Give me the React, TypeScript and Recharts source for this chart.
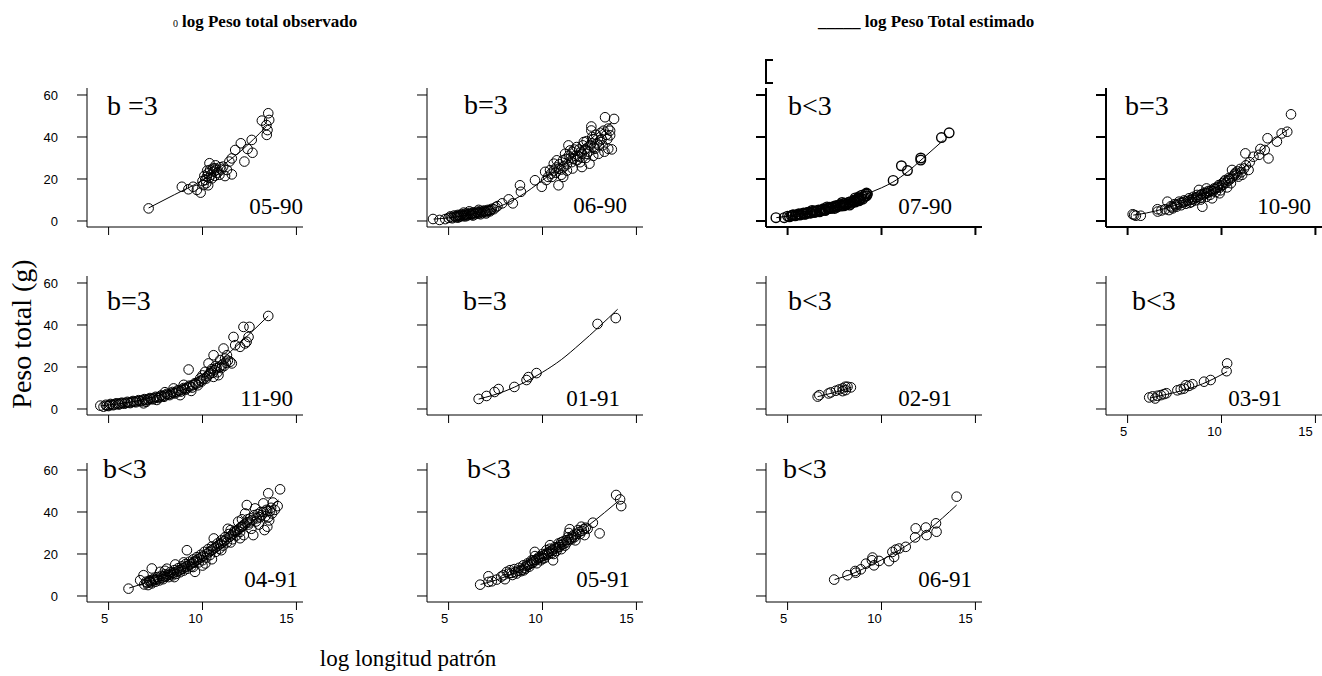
import React from 'react';
import { ScatterChart, Scatter, XAxis, YAxis } from 'recharts';

type Pt = [number, number];

// observed points (log longitud patrón, peso total) and fitted curve per month
const obs0590: Pt[] = [
  [7.13, 6.0], [8.9, 16.3], [9.25, 15.1], [9.5, 16.3], [9.7, 14.8], [9.9, 13.5], [10.05, 17.1],
  [10.15, 19.5], [10.23, 21.1], [10.3, 22.7], [10.37, 27.5], [10.4, 24.3], [10.5, 20.3],
  [10.6, 23.5], [10.67, 25.1], [10.76, 24.3], [10.94, 25.6], [11.1, 25.9], [11.2, 21.4],
  [11.3, 24.3], [11.43, 28.3], [11.56, 22.2], [11.56, 29.8], [11.74, 33.8], [12.04, 37],
  [12.23, 28.3], [12.4, 34.3], [12.62, 38.6], [12.66, 32.5], [13.16, 47.8], [13.42, 41],
  [13.46, 43.3], [13.5, 51.3], [13.55, 48.1], [13.4, 45.7], [10.0, 19], [10.1, 21.5],
  [10.2, 18], [10.25, 24], [10.35, 20.5], [10.45, 22], [10.55, 25], [10.65, 21.5],
  [10.7, 26.5], [10.8, 23], [10.9, 22], [11.0, 24.5], [10.3, 17],
];
const fit0590: Pt[] = [[7.13, 6.2], [8.5, 12.5], [10, 19.5], [11, 26], [12, 33], [13.4, 45]];

const obs0690: Pt[] = [
  [4.17, 0.95], [4.52, 0.5], [4.82, 0.9], [5.0, 1.5], [5.1, 2.2], [5.2, 1.3], [5.3, 2.6],
  [5.4, 1.8], [5.5, 2.9], [5.6, 2.0], [5.7, 3.2], [5.8, 2.3], [5.9, 3.5], [6.0, 2.6],
  [6.1, 3.8], [6.2, 2.9], [6.3, 4.1], [6.4, 3.2], [6.5, 4.4], [6.6, 3.5], [6.7, 4.8],
  [6.8, 3.8], [6.9, 5.0], [7.0, 4.2], [7.1, 5.3], [7.2, 4.6], [7.3, 5.8], [7.5, 6.5],
  [7.6, 7.1], [7.85, 8.4], [8.2, 10.3], [8.42, 8.4], [8.8, 17], [8.85, 13.9], [9.6, 19.4],
  [5.15, 1.7], [5.35, 2.1], [5.45, 2.4], [5.55, 2.5], [5.65, 2.7], [5.75, 2.6], [5.85, 2.9],
  [5.95, 3.0], [6.05, 3.2], [6.15, 3.3], [6.25, 3.5], [6.35, 3.7], [6.45, 3.8], [6.55, 4.0],
  [6.65, 4.1], [6.75, 4.3], [6.85, 4.5], [6.95, 4.6], [7.05, 4.8], [7.15, 5.0], [7.25, 5.2],
  [7.4, 5.6], [5.5, 1.6], [5.9, 2.2], [6.3, 2.6], [6.7, 3.2], [7.0, 3.6], [6.1, 4.6],
  [6.6, 5.3], [5.8, 4.0],
  [9.96, 16.3], [10.14, 23.4], [10.2, 19.5], [10.4, 24.2], [10.5, 21], [10.6, 27.3],
  [10.7, 23], [10.76, 28.9], [10.85, 17], [10.9, 25], [11.0, 22], [11.1, 21], [11.1, 29],
  [11.2, 32], [11.3, 27], [11.38, 36], [11.47, 33.6], [11.5, 30], [11.6, 25], [11.65, 29.7],
  [11.7, 34], [11.82, 35.2], [11.9, 31], [12.0, 28], [12.05, 33], [12.1, 25.7], [12.2, 37.6],
  [12.3, 30], [12.36, 32], [12.4, 35], [12.5, 27.3], [12.55, 36], [12.6, 45], [12.6, 43.1],
  [12.7, 39], [12.8, 34.4], [12.9, 37], [12.98, 32], [13.07, 38.4], [13.1, 42], [13.2, 36],
  [13.33, 49.4], [13.4, 41], [13.5, 34.4], [13.6, 40.8], [13.69, 34.1], [13.81, 48.6],
  [13.5, 44], [10.3, 21], [10.45, 22.5], [10.6, 24], [10.75, 25.5], [10.9, 27], [11.0, 24.5],
  [11.15, 26], [11.25, 29.5], [11.4, 31], [11.55, 28], [11.6, 33], [11.75, 31], [11.85, 29],
  [11.95, 34], [12.1, 32], [12.15, 36], [12.25, 34], [12.35, 38], [12.45, 33], [12.6, 37],
  [12.65, 40], [12.75, 35], [12.85, 41], [13.0, 36], [13.15, 39], [13.25, 43], [13.45, 39],
  [13.6, 43], [11.3, 24], [12.0, 30.5], [12.7, 31], [13.3, 33],
];
const fit0690: Pt[] = [
  [4.2, 0.9], [5, 1.5], [6, 2.8], [7, 5], [8, 8], [8.8, 11.8], [10, 19.4], [11.5, 30],
  [12.5, 38.5], [13.7, 47],
];

const obs0790: Pt[] = [
  [4.38, 1.6], [4.82, 1.6], [5.0, 2.3], [5.2, 2.5], [5.3, 3.0], [5.45, 2.8], [5.6, 3.4],
  [5.7, 3.1], [5.85, 3.8], [6.0, 3.6], [6.1, 4.2], [6.25, 3.9], [6.4, 4.7], [6.5, 4.4],
  [6.65, 5.2], [6.8, 4.9], [6.9, 5.8], [7.05, 5.4], [7.2, 6.3], [7.3, 5.9], [7.45, 6.9],
  [7.6, 6.5], [7.7, 7.5], [7.85, 7.1], [8.0, 8.2], [8.1, 7.7], [8.25, 8.9], [8.4, 8.4],
  [8.5, 9.6], [8.6, 9.0], [8.7, 10.3], [8.8, 9.6], [8.9, 11.0], [9.0, 10.4], [9.1, 11.8],
  [9.15, 12.8], [9.2, 13.3], [8.95, 12.3], [8.6, 11.0], [8.3, 7.6], [7.9, 8.8], [7.5, 6.0],
  [7.1, 6.7], [6.7, 4.4], [6.3, 5.0], [5.9, 3.2],
  [5.1, 2.0], [5.25, 2.7], [5.4, 2.5], [5.55, 3.1], [5.65, 2.8], [5.8, 3.5], [5.95, 3.3],
  [6.05, 4.0], [6.2, 3.7], [6.35, 4.4], [6.45, 4.1], [6.55, 4.9], [6.75, 5.0], [6.85, 5.4],
  [7.0, 5.7], [7.15, 6.0], [7.25, 6.6], [7.4, 6.4], [7.55, 7.2], [7.65, 6.9], [7.8, 7.8],
  [7.95, 7.5], [8.05, 8.5], [8.2, 8.2], [8.35, 9.2], [8.45, 8.9], [8.55, 10.0], [8.65, 9.6],
  [8.75, 10.8], [8.85, 10.2], [9.05, 11.2], [9.2, 12.0], [9.25, 12.8], [7.0, 5.0], [8.0, 7.2],
  [8.8, 11.5],
  [10.62, 19.3], [11.06, 26.3], [11.38, 24], [12.09, 29], [12.09, 30], [13.19, 39.7], [13.6, 42],
];
const fit0790: Pt[] = [
  [4.4, 1.6], [5, 2.3], [6, 4], [7, 6], [8, 8.5], [9, 12.2], [10, 15.8], [10.6, 18.5],
  [11.4, 23.5], [12.1, 29], [13.3, 38.5],
];

const obs1090: Pt[] = [
  [5.27, 3.2], [5.44, 2.5], [5.7, 2.5], [5.35, 2.9], [6.59, 5.6], [6.6, 4.5], [7.12, 9.2],
  [7.2, 5.2], [7.3, 7], [7.4, 6.0], [7.5, 8], [7.6, 6.8], [7.74, 9.2], [7.85, 7.5], [8.0, 9.8],
  [8.1, 8.2], [8.27, 10.8], [8.4, 9.0], [8.5, 11.5], [8.6, 9.8], [8.7, 12.4], [8.8, 14.8],
  [8.9, 11], [8.98, 6.8], [9.1, 13.5], [9.2, 11.5], [9.3, 14.3], [9.4, 12.5], [9.5, 10.8],
  [9.6, 15.5], [9.7, 13.8], [9.86, 17.1], [9.95, 14.6], [10.05, 18], [10.2, 19.5], [10.3, 16],
  [10.4, 20.5], [10.5, 18], [10.56, 24.3], [10.65, 21.5], [10.75, 23], [10.9, 21.1],
  [11.0, 24.8], [11.1, 22], [11.27, 32.2], [11.3, 26.5], [11.44, 24.3], [11.5, 28],
  [7.35, 6.5], [7.55, 7.4], [7.65, 7.9], [7.8, 8.5], [7.95, 8.8], [8.05, 9.2], [8.2, 9.6],
  [8.35, 10], [8.45, 10.4], [8.55, 10.7], [8.65, 11.2], [8.75, 11.5], [8.85, 12.2],
  [8.95, 12.8], [9.05, 12.5], [9.15, 13.1], [9.25, 13.3], [9.35, 13.9], [9.45, 14.5],
  [9.55, 14.2], [9.65, 15.2], [9.75, 15.8], [9.8, 16.3], [9.9, 15.9], [10.0, 16.8],
  [10.1, 17.3], [10.15, 18.8], [10.25, 18.2], [10.35, 19.2], [10.45, 19.8], [10.55, 20.7],
  [10.7, 22.3], [10.8, 21.8], [10.85, 23.6], [11.05, 23.2], [11.2, 25], [8.3, 8.6],
  [8.9, 10.2], [9.2, 15.5], [9.9, 13.2], [7.0, 5.6], [6.8, 5.0],
  [11.7, 30.6], [12.0, 31.5], [12.07, 34.3], [12.3, 33.8], [12.5, 29.8], [12.45, 39.4],
  [12.95, 37.8], [13.2, 41.7], [13.5, 42.5], [13.7, 50.8],
];
const fit1090: Pt[] = [
  [5.3, 2.8], [6, 3.8], [7, 6], [8, 9], [9, 12.8], [10, 17.5], [11, 24], [11.8, 31],
  [13.2, 41.5], [13.6, 44],
];

const obs1190: Pt[] = [
  [4.56, 1.6], [4.73, 1.1], [4.85, 2], [5.0, 1.4], [5.1, 2.4], [5.25, 1.8], [5.4, 2.7],
  [5.55, 2.1], [5.7, 3.0], [5.85, 2.5], [6.0, 3.4], [6.15, 2.8], [6.3, 3.8], [6.45, 3.2],
  [6.6, 4.2], [6.75, 3.6], [6.86, 2.7], [6.9, 4.7], [7.05, 4.1], [7.2, 5.2], [7.35, 4.6],
  [7.5, 5.8], [7.57, 4.3], [7.65, 5.2], [7.8, 6.5], [7.95, 5.8], [8.1, 7.2], [8.25, 6.6],
  [8.4, 8.1], [8.46, 9.8], [8.55, 7.4], [8.7, 9.0], [8.81, 6.6], [8.85, 8.3], [9.0, 10.0],
  [9.1, 9.2], [9.26, 18.8], [9.3, 11.1], [9.45, 10.2], [9.6, 12.3], [9.75, 11.3],
  [9.88, 14.6], [9.9, 13.5], [10.0, 16], [10.14, 17.7], [10.2, 14.5], [10.32, 21.7],
  [10.4, 17], [10.5, 19], [10.59, 25.6], [10.59, 15.3], [10.7, 20.5], [10.85, 16.1],
  [10.94, 23.3], [11.0, 19.5], [11.12, 28.8], [11.2, 24], [11.3, 25.6], [11.47, 22.5],
  [4.9, 1.5], [5.05, 1.9], [5.2, 2.1], [5.35, 2.2], [5.5, 2.5], [5.6, 2.6], [5.75, 2.7],
  [5.9, 2.9], [6.05, 3.0], [6.2, 3.3], [6.35, 3.4], [6.5, 3.7], [6.65, 3.8], [6.8, 4.1],
  [6.95, 4.3], [7.1, 4.6], [7.25, 4.8], [7.4, 5.1], [7.55, 5.4], [7.7, 5.8], [7.85, 6.1],
  [8.0, 6.4], [8.15, 6.8], [8.3, 7.3], [8.45, 7.6], [8.6, 8.2], [8.75, 8.6], [8.9, 9.2],
  [9.05, 9.6], [9.2, 10.2], [9.35, 10.7], [9.5, 11.4], [9.65, 11.9], [9.8, 12.6],
  [9.95, 13.1], [10.05, 14.2], [10.25, 15.6], [10.35, 16.5], [10.45, 18], [10.55, 17.2],
  [10.65, 18.5], [10.75, 19.5], [10.8, 17.5], [10.9, 20], [11.05, 21], [11.15, 20.5],
  [11.25, 22], [11.35, 23], [7.0, 3.4], [8.0, 8], [9.0, 11.5], [9.4, 8.6],
  [11.56, 21.7], [11.65, 34.3], [11.74, 30.4], [12, 29.6], [12.18, 39.1], [12.27, 31.2],
  [12.5, 39.1], [12.45, 34.3], [12.35, 32], [13.5, 44.3],
];
const fit1190: Pt[] = [
  [4.6, 1.5], [5, 1.9], [6, 3], [7, 4.8], [8, 7.5], [9, 11.5], [10, 16.5], [11, 23.5],
  [12, 31.5], [13.5, 44.3],
];

const obs0191: Pt[] = [
  [6.6, 4.8], [7.02, 6.2], [7.45, 8.1], [7.66, 9.5], [8.5, 10.5], [9.15, 13.8], [9.25, 15.2],
  [9.68, 17.1], [12.93, 40.5], [13.9, 43.3],
];
const fit0191: Pt[] = [[6.6, 4.7], [8, 8.5], [9, 12.5], [10, 17.5], [11, 23.5], [12, 31], [14, 47.5]];

const obs0291: Pt[] = [
  [6.6, 5.9], [6.69, 6.6], [7.18, 7.4], [7.3, 7.9], [7.57, 8.7], [7.75, 9.3], [7.93, 9.8],
  [8.07, 10.6], [8.19, 10.6], [8.37, 10.3], [8.1, 9], [7.93, 8.5],
];
const fit0291: Pt[] = [[6.6, 5.9], [7.5, 7.9], [8.4, 10.4]];

const obs0391: Pt[] = [
  [6.15, 5.5], [6.33, 6], [6.47, 5], [6.59, 6.3], [6.77, 6.6], [6.94, 7.1], [7.07, 7.5],
  [7.65, 8.9], [7.83, 9.4], [8.0, 9.7], [8.1, 11.3], [8.27, 11], [8.45, 11.8], [9.07, 13],
  [9.42, 13.8], [10.27, 18], [10.3, 21.7],
];
const fit0391: Pt[] = [[6.2, 5.2], [7, 6.8], [8, 9], [9, 12], [10.3, 17.8]];

const obs0491: Pt[] = [
  [6.06, 3.5], [6.68, 7.5], [6.86, 9.9], [7.3, 13.1], [6.9, 5.5], [7.0, 6.8], [7.1, 5.2],
  [7.2, 7.5], [7.3, 6], [7.4, 8.2], [7.5, 6.8], [7.6, 9], [7.7, 7.4], [7.75, 11.5], [7.8, 9.6],
  [7.9, 8], [8.0, 10.3], [8.1, 13], [8.2, 9], [8.3, 11.5], [8.4, 9.8], [8.5, 12.3],
  [8.55, 15], [8.6, 10.5], [8.7, 13.2], [8.8, 11.3], [8.9, 14.1], [9.0, 12.1], [9.1, 15.2],
  [9.17, 21.8], [9.2, 13.0], [9.3, 16.3], [9.4, 14], [9.5, 17.4], [9.6, 11.5], [9.7, 18.5],
  [9.8, 16], [9.9, 19.6], [10.0, 17], [10.1, 21], [10.15, 15.5], [10.2, 18.3], [10.3, 22.3],
  [10.4, 19.5], [10.5, 23.6], [10.6, 27.4], [10.7, 21], [10.8, 25], [10.9, 22.5],
  [11.0, 26.5], [11.1, 24], [11.2, 28], [11.3, 25.5], [11.35, 32], [11.4, 29.5],
  [11.5, 31.4], [11.6, 27], [11.7, 31], [11.8, 28.8], [11.9, 35.4], [12.0, 30.5],
  [12.1, 33], [12.2, 29], [12.27, 39.3], [12.36, 43.3], [12.4, 36.5], [12.5, 35],
  [12.6, 32], [12.7, 29], [12.8, 41.7], [12.9, 37], [13.0, 34], [13.1, 40], [13.24, 44.1],
  [13.3, 31.4], [13.35, 38], [13.4, 41], [13.45, 33], [13.5, 48.9], [13.55, 36],
  [13.6, 40.5], [13.7, 39.3], [14.0, 42.8], [14.13, 50.8],
  [7.05, 6.2], [7.15, 7], [7.25, 6.6], [7.35, 7.3], [7.45, 7.6], [7.55, 7.8], [7.65, 8.3],
  [7.85, 8.7], [7.95, 9.3], [8.05, 9.2], [8.15, 10.2], [8.25, 10.1], [8.35, 10.6], [8.45, 11],
  [8.65, 11.7], [8.75, 12.2], [8.85, 12.6], [8.95, 13.1], [9.05, 13.6], [9.15, 14.1],
  [9.25, 14.6], [9.35, 15.1], [9.45, 15.6], [9.55, 16.2], [9.65, 16.8], [9.75, 17.4],
  [9.85, 17.9], [9.95, 18.5], [10.05, 19.1], [10.25, 20.1], [10.35, 20.9], [10.45, 21.6],
  [10.55, 22.2], [10.65, 22.8], [10.75, 23.5], [10.85, 24.2], [10.95, 24.8], [11.05, 25.4],
  [11.15, 26.2], [11.25, 26.8], [11.45, 28.2], [11.55, 29], [11.65, 29.8], [11.75, 30.5],
  [11.85, 31.3], [11.95, 32], [12.05, 32.8], [12.15, 33.6], [12.25, 34.2], [12.35, 35],
  [12.45, 34], [12.55, 37], [12.65, 36], [12.75, 38.5], [12.85, 35.5], [12.95, 39],
  [13.05, 37.5], [13.15, 38.5], [13.25, 40], [13.45, 40.5], [13.5, 37.5], [13.65, 42],
  [13.75, 44.5], [13.85, 41], [8.0, 12], [9.0, 16], [10.0, 14.5], [11.0, 21.8], [12.0, 27.5],
  [12.1, 36.5], [11.5, 25.5], [10.5, 17.5], [9.5, 13.8], [8.5, 9.0],
];
const fit0491: Pt[] = [
  [6.1, 3.8], [7, 6.3], [8, 9], [9, 13], [10, 18], [11, 24], [12, 31], [13, 38], [14.05, 45.7],
];

const obs0591: Pt[] = [
  [6.68, 5.4], [7.12, 6.7], [7.12, 9.4], [7.3, 7.0], [7.56, 7.8], [7.8, 9.2], [7.92, 9.9],
  [8.0, 8.0], [8.1, 11.5], [8.27, 12.3], [8.4, 10], [8.5, 12.8], [8.62, 10.7], [8.75, 13.4],
  [8.85, 11.8], [8.98, 14.6], [9.1, 13], [9.2, 15.5], [9.3, 14], [9.4, 16.8], [9.5, 17],
  [9.59, 21], [9.7, 15.6], [9.8, 18.5], [9.9, 17], [10.0, 20], [10.1, 18], [10.21, 21.8],
  [10.3, 19.8], [10.4, 22.5], [10.5, 20.5], [10.56, 17], [10.65, 23.2], [10.75, 21.5],
  [10.85, 25], [10.92, 24.2], [11.0, 22.3], [11.1, 26], [11.2, 24], [11.27, 26.6],
  [11.35, 28], [11.45, 31.8], [11.55, 27], [11.65, 29], [11.75, 26.5], [11.89, 31.4],
  [12.0, 29.5], [12.07, 33], [12.24, 29],
  [8.2, 10.7], [8.35, 11], [8.55, 11.4], [8.7, 12], [8.9, 12.5], [9.05, 13.5], [9.15, 14.4],
  [9.25, 14.8], [9.35, 15.3], [9.45, 15.8], [9.55, 16.3], [9.65, 17.2], [9.75, 17.8],
  [9.85, 18.1], [9.95, 18.8], [10.05, 19.2], [10.15, 19.6], [10.25, 20.4], [10.35, 21],
  [10.45, 21.5], [10.55, 22], [10.6, 20], [10.7, 22.6], [10.8, 23.1], [10.9, 23.3],
  [11.05, 24.5], [11.15, 25], [11.3, 25.5], [11.4, 26.8], [11.5, 27.3], [11.6, 28.3],
  [11.7, 28], [11.8, 29.5], [11.95, 30.5], [12.1, 31], [12.2, 31.8], [12.3, 32.5], [12.4, 32],
  [9.0, 12.2], [10.0, 17.8], [11.0, 25.6], [9.6, 19], [10.4, 24.2], [11.4, 30],
  [12.68, 34.9], [13.04, 29.8], [13.92, 48.1], [14.13, 46], [14.19, 42.8],
];
const fit0591: Pt[] = [
  [6.7, 5.5], [7.5, 7.5], [8.5, 11], [9.5, 15.5], [10.5, 21], [11.5, 27.5], [12.5, 34],
  [14.1, 45.7],
];

const obs0691: Pt[] = [
  [7.48, 7.8], [8.19, 9.9], [8.6, 11.9], [8.63, 11.1], [8.9, 12.7], [9.17, 15.4], [9.49, 17],
  [9.52, 18.3], [9.6, 14.6], [9.87, 16.7], [10.4, 16.6], [10.58, 21], [10.67, 18.6],
  [10.76, 22.1], [10.94, 22.6], [11.29, 23.4], [11.79, 27.9], [11.82, 32.2], [12.36, 32.6],
  [12.4, 29], [12.9, 34.6], [12.93, 30.6], [14, 47.3],
];
const fit0691: Pt[] = [
  [7.5, 7.8], [8.5, 10.8], [9.5, 15], [10.5, 19.5], [11.5, 25], [12.5, 31.5], [14, 43.3],
];

const months = ['05-90', '06-90', '07-90', '10-90', '11-90', '01-91', '02-91', '03-91', '04-91', '05-91', '06-91'];
const bLabels = ['b =3', 'b=3', 'b<3', 'b=3', 'b=3', 'b=3', 'b<3', 'b<3', 'b<3', 'b<3', 'b<3'];
const observed = [obs0590, obs0690, obs0790, obs1090, obs1190, obs0191, obs0291, obs0391, obs0491, obs0591, obs0691];
const fitted = [fit0590, fit0690, fit0790, fit1090, fit1190, fit0191, fit0291, fit0391, fit0491, fit0591, fit0691];

const xTicks = [5, 10, 15];
const yTicks = [0, 20, 40, 60];

// page layout of each panel: y-axis x, x-axis y, label anchors
const layout = [
  { ax: 87, ay: 227, bx: 107, by: 115, mx: 303, my: 214, yl: true, xl: false, bold: false },
  { ax: 427, ay: 227, bx: 464, by: 114, mx: 627, my: 213, yl: false, xl: false, bold: false },
  { ax: 766, ay: 227, bx: 788, by: 115, mx: 952, my: 214, yl: false, xl: false, bold: true },
  { ax: 1106, ay: 227, bx: 1125, by: 115, mx: 1311, my: 214, yl: false, xl: false, bold: true },
  { ax: 87, ay: 415, bx: 107, by: 310, mx: 293, my: 406, yl: true, xl: false, bold: false },
  { ax: 427, ay: 415, bx: 463, by: 310, mx: 620, my: 406, yl: false, xl: false, bold: false },
  { ax: 766, ay: 415, bx: 788, by: 310, mx: 952, my: 406, yl: false, xl: false, bold: false },
  { ax: 1106, ay: 415, bx: 1132, by: 310, mx: 1282, my: 406, yl: false, xl: true, bold: false },
  { ax: 87, ay: 602, bx: 103, by: 478, mx: 298, my: 587, yl: true, xl: true, bold: false },
  { ax: 427, ay: 602, bx: 467, by: 478, mx: 630, my: 587, yl: false, xl: true, bold: false },
  { ax: 766, ay: 602, bx: 783, by: 478, mx: 972, my: 587, yl: false, xl: true, bold: false },
];

const SERIF = "'Liberation Serif', 'Times New Roman', serif";
const SANS = "'Liberation Sans', Arial, sans-serif";

const EmptyTick = () => <g />;

const XTick = (props: any) => {
  const { x, y, payload } = props;
  return (
    <text x={x - 4 - (payload.value - 5) * 0.6} y={y} dy="0.71em" textAnchor="middle" fontSize={13} fontFamily={SANS} fill="#000">
      {payload.value}
    </text>
  );
};

const YTick = (props: any) => {
  const { x, y, payload } = props;
  return (
    <text x={x} y={y} dy="0.36em" textAnchor="end" fontSize={13} fontFamily={SANS} fill="#000">
      {payload.value}
    </text>
  );
};

const toXY = (pts: Pt[]) => pts.map(([x, y]) => ({ x, y }));

const Panel = ({ idx }: { idx: number }) => {
  const l = layout[idx];
  const sw = l.bold ? 2 : 1;
  const cw = idx === 2 ? 1.4 : 1;
  const axisStyle = { stroke: '#000', strokeWidth: sw };
  return (
    <div style={{ position: 'absolute', left: l.ax - 80, top: l.ay - 149 }}>
      <ScatterChart width={320} height={200} margin={{ top: 10, right: 24, bottom: 21, left: 0 }}>
        <XAxis
          type="number"
          dataKey="x"
          domain={[3.85, 15.35]}
          allowDataOverflow
          ticks={xTicks}
          interval={0}
          height={30}
          tickSize={8}
          tickMargin={4}
          axisLine={axisStyle}
          tickLine={axisStyle}
          tick={l.xl ? XTick : EmptyTick}
        />
        <YAxis
          type="number"
          dataKey="y"
          domain={[-2.86, 63.33]}
          allowDataOverflow
          ticks={yTicks}
          interval={0}
          width={80}
          tickSize={10}
          tickMargin={19}
          axisLine={axisStyle}
          tickLine={axisStyle}
          tick={l.yl ? YTick : EmptyTick}
        />
        <Scatter
          data={toXY(fitted[idx])}
          line={{ stroke: '#000', strokeWidth: 1 }}
          lineJointType="monotoneX"
          shape={EmptyTick}
          isAnimationActive={false}
        />
        <Scatter
          data={toXY(observed[idx])}
          isAnimationActive={false}
          shape={(p: any) => <circle cx={p.cx} cy={p.cy} r={4.8} fill="none" stroke="#000" strokeWidth={cw} />}
        />
      </ScatterChart>
    </div>
  );
};

export default function App() {
  return (
    <div style={{ position: 'absolute', left: 0, top: 0, width: 1322, height: 676, overflow: 'hidden', background: '#fff' }}>
      {months.map((m, i) => (
        <Panel key={m} idx={i} />
      ))}
      <svg width={1322} height={676} style={{ position: 'absolute', left: 0, top: 0, pointerEvents: 'none' }}>
        <text x={173} y={27} fontSize={10} fontFamily={SERIF}>0</text>
        <text x={182} y={27} fontSize={17} fontWeight="bold" fontFamily={SERIF}>log Peso total observado</text>
        <text x={818} y={27} fontSize={17} fontWeight="bold" fontFamily={SERIF} style={{ whiteSpace: 'pre' }}>
          _____ log Peso Total estimado
        </text>
        <path d="M773,60 L766,60 L766,83 L773,83" fill="none" stroke="#000" strokeWidth={2} />
        {months.map((m, i) => (
          <g key={m}>
            <text x={layout[i].bx} y={layout[i].by} fontSize={28} fontFamily={SERIF}>{bLabels[i]}</text>
            <text x={layout[i].mx} y={layout[i].my} fontSize={23} fontFamily={SERIF} textAnchor="end">{m}</text>
          </g>
        ))}
        <text transform="translate(31,334) rotate(-90)" textAnchor="middle" fontSize={28} fontFamily={SERIF}>
          Peso total (g)
        </text>
        <text x={408} y={666} textAnchor="middle" fontSize={23} fontFamily={SERIF}>log longitud patrón</text>
      </svg>
    </div>
  );
}
